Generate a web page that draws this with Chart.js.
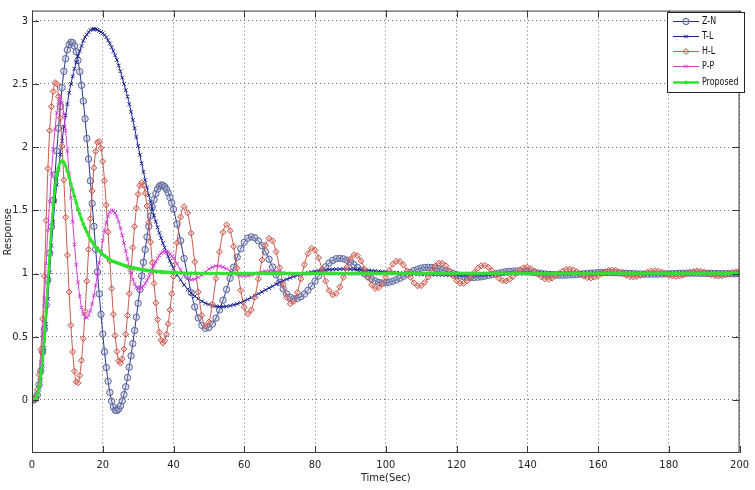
<!DOCTYPE html>
<html>
<head>
<meta charset="utf-8">
<script src="https://cdn.jsdelivr.net/npm/chart.js@4.4.1/dist/chart.umd.min.js"></script>
<style>
  html, body { margin: 0; padding: 0; background: #fff; }
  #wrap { width: 755px; height: 490px; }
</style>
</head>
<body>
<div id="wrap"><canvas id="c" width="755" height="490"></canvas></div>
<script>
// sample times (s): 0.5 s steps up to 40, then 1 s steps up to 200
const timeSec = [
  0,0.5,1,1.5,2,2.5,3,3.5,4,4.5,5,5.5,6,6.5,7,7.5,8,8.5,9,9.5,
  10,10.5,11,11.5,12,12.5,13,13.5,14,14.5,15,15.5,16,16.5,17,17.5,18,18.5,19,19.5,
  20,20.5,21,21.5,22,22.5,23,23.5,24,24.5,25,25.5,26,26.5,27,27.5,28,28.5,29,29.5,
  30,30.5,31,31.5,32,32.5,33,33.5,34,34.5,35,35.5,36,36.5,37,37.5,38,38.5,39,39.5,40,
  41,42,43,44,45,46,47,48,49,50,51,52,53,54,55,56,57,58,59,60,
  61,62,63,64,65,66,67,68,69,70,71,72,73,74,75,76,77,78,79,80,
  81,82,83,84,85,86,87,88,89,90,91,92,93,94,95,96,97,98,99,100,
  101,102,103,104,105,106,107,108,109,110,111,112,113,114,115,116,117,118,119,120,
  121,122,123,124,125,126,127,128,129,130,131,132,133,134,135,136,137,138,139,140,
  141,142,143,144,145,146,147,148,149,150,151,152,153,154,155,156,157,158,159,160,
  161,162,163,164,165,166,167,168,169,170,171,172,173,174,175,176,177,178,179,180,
  181,182,183,184,185,186,187,188,189,190,191,192,193,194,195,196,197,198,199,200
];

const zn = [
  0,0,0.01,0.04,0.12,0.23,0.38,0.56,0.75,0.95,
  1.16,1.37,1.58,1.78,1.97,2.15,2.32,2.47,2.6,2.7,
  2.77,2.81,2.83,2.826,2.8,2.754,2.686,2.597,2.489,2.364,
  2.224,2.069,1.906,1.733,1.554,1.373,1.191,1.012,0.839,0.676,
  0.521,0.381,0.256,0.148,0.059,-0.01,-0.056,-0.081,-0.084,-0.072,
  -0.047,-0.008,0.042,0.104,0.177,0.259,0.349,0.446,0.549,0.655,
  0.764,0.873,0.981,1.088,1.189,1.289,1.373,1.455,1.524,1.584,
  1.632,1.668,1.69,1.7,1.697,1.686,1.666,1.638,1.601,1.558,
  1.508,
  1.391,1.259,1.118,0.979,0.849,0.736,0.648,0.59,0.566,0.572,
  0.6,0.647,0.712,0.789,0.874,0.963,1.05,1.129,1.196,1.247,
  1.279,1.29,1.282,1.258,1.22,1.171,1.113,1.051,0.989,0.93,
  0.879,0.838,0.812,0.8,0.803,0.816,0.837,0.867,0.901,0.94,
  0.98,1.019,1.053,1.083,1.104,1.117,1.12,1.116,1.105,1.09,
  1.07,1.048,1.024,0.999,0.977,0.957,0.941,0.93,0.925,0.926,
  0.931,0.939,0.95,0.963,0.978,0.994,1.009,1.023,1.034,1.043,
  1.047,1.049,1.047,1.043,1.037,1.029,1.02,1.01,1.0,0.99,
  0.982,0.975,0.971,0.969,0.969,0.971,0.974,0.979,0.985,0.991,
  0.997,1.003,1.009,1.014,1.017,1.019,1.02,1.019,1.017,1.015,
  1.012,1.008,1.004,1.0,0.996,0.993,0.99,0.988,0.987,0.987,
  0.988,0.989,0.991,0.993,0.995,0.998,1.0,1.003,1.005,1.007,
  1.008,1.008,1.008,1.007,1.006,1.005,1.004,1.002,1.0,0.999,
  0.997,0.996,0.995,0.995,0.995,0.995,0.995,0.996,0.997,0.998,
  0.999,1.0,1.001,1.002,1.003,1.003,1.003,1.003,1.002,1.002,
  1.001,1.001,1.0,1.0,0.999,0.999,0.998,0.998,0.998,0.998
];

const tl = [
  0,0,0.01,0.03,0.08,0.16,0.27,0.41,0.6,0.8,
  1.01,1.22,1.41,1.57,1.7,1.82,1.94,2.05,2.16,2.25,
  2.34,2.43,2.5,2.56,2.62,2.67,2.72,2.76,2.8,2.84,
  2.87,2.89,2.91,2.925,2.932,2.935,2.934,2.928,2.92,2.91,
  2.9,2.885,2.87,2.845,2.82,2.79,2.76,2.725,2.69,2.645,
  2.6,2.55,2.5,2.45,2.4,2.34,2.28,2.215,2.15,2.08,
  2.01,1.94,1.87,1.805,1.74,1.68,1.62,1.565,1.51,1.46,
  1.41,1.365,1.32,1.28,1.24,1.205,1.17,1.135,1.1,1.07,
  1.04,
  0.99,0.95,0.91,0.875,0.845,0.82,0.8,0.78,0.765,0.755,
  0.745,0.74,0.738,0.738,0.74,0.745,0.752,0.76,0.77,0.782,
  0.795,0.81,0.825,0.84,0.855,0.87,0.885,0.9,0.915,0.93,
  0.943,0.955,0.966,0.976,0.985,0.993,1.0,1.006,1.012,1.017,
  1.021,1.025,1.028,1.031,1.033,1.034,1.035,1.035,1.035,1.034,
  1.033,1.031,1.029,1.027,1.025,1.022,1.02,1.017,1.015,1.012,
  1.01,1.008,1.006,1.004,1.002,1.0,0.998,0.997,0.995,0.994,
  0.993,0.992,0.991,0.99,0.99,0.989,0.989,0.988,0.988,0.988,
  0.988,0.988,0.988,0.989,0.989,0.99,0.99,0.991,0.992,0.993,
  0.994,0.995,0.996,0.997,0.998,0.999,0.999,1.0,1.001,1.002,
  1.002,1.003,1.003,1.004,1.004,1.004,1.004,1.004,1.004,1.004,
  1.003,1.003,1.003,1.003,1.002,1.002,1.001,1.001,1.0,1.0,
  1.0,1.0,0.999,0.999,0.999,0.999,0.999,0.999,0.999,0.999,
  1,1,1,1,1,1,1,1,1,1,
  1,1,1,1,1,1,1,1,1,1,
  1,1,1,1,1,1,1,1,1,1
];

const hl = [
  0,0,0.02,0.08,0.2,0.4,0.64,0.98,1.42,1.83,
  2.13,2.32,2.44,2.51,2.5,2.4,2.23,2.01,1.74,1.445,
  1.145,0.854,0.59,0.38,0.227,0.143,0.135,0.193,0.313,0.486,
  0.7,0.94,1.19,1.434,1.654,1.836,1.966,2.038,2.045,1.994,
  1.887,1.734,1.542,1.328,1.1,0.88,0.678,0.51,0.383,0.309,
  0.291,0.324,0.402,0.519,0.668,0.841,1.024,1.205,1.372,1.517,
  1.627,1.696,1.72,1.698,1.635,1.534,1.403,1.249,1.085,0.921,
  0.768,0.636,0.535,0.472,0.45,0.468,0.52,0.603,0.712,0.839,
  0.976,
  1.244,1.447,1.529,1.48,1.32,1.092,0.854,0.669,0.583,0.617,
  0.757,0.961,1.171,1.327,1.385,1.339,1.214,1.042,0.867,0.734,
  0.68,0.712,0.813,0.957,1.107,1.224,1.278,1.258,1.173,1.047,
  0.914,0.81,0.761,0.779,0.851,0.957,1.07,1.158,1.199,1.184,
  1.124,1.034,0.94,0.865,0.831,0.843,0.894,0.97,1.05,1.115,
  1.148,1.141,1.1,1.036,0.967,0.91,0.882,0.887,0.92,0.97,
  1.026,1.073,1.098,1.095,1.067,1.021,0.969,0.926,0.902,0.904,
  0.93,0.971,1.018,1.059,1.082,1.082,1.061,1.024,0.981,0.944,
  0.923,0.922,0.941,0.972,1.009,1.042,1.062,1.064,1.049,1.022,
  0.99,0.961,0.943,0.941,0.954,0.977,1.005,1.03,1.046,1.05,
  1.039,1.02,0.995,0.973,0.958,0.955,0.964,0.98,1.0,1.019,
  1.032,1.035,1.028,1.014,0.996,0.979,0.968,0.965,0.971,0.983,
  0.999,1.014,1.025,1.028,1.024,1.013,0.999,0.985,0.975,0.972,
  0.976,0.985,0.998,1.01,1.019,1.022,1.019,1.011,1.0,0.988,
  0.98,0.977,0.98,0.987,0.998,1.009,1.017,1.02,1.018,1.011,
  1.001,0.991,0.983,0.98,0.982,0.988,0.998,1.007,1.014,1.018
];

const pp = [
  0,0,0.02,0.06,0.15,0.3,0.52,0.8,1.08,1.34,
  1.57,1.79,1.98,2.14,2.27,2.36,2.4,2.35,2.26,2.13,
  1.97,1.79,1.6,1.41,1.23,1.07,0.93,0.82,0.73,0.68,
  0.655,0.652,0.669,0.705,0.759,0.826,0.906,0.993,1.084,1.175,
  1.261,1.338,1.403,1.453,1.486,1.5,1.496,1.479,1.449,1.409,
  1.36,1.303,1.241,1.177,1.114,1.054,1.0,0.953,0.918,0.893,
  0.881,0.881,0.888,0.902,0.921,0.945,0.972,1.003,1.034,1.065,
  1.094,1.12,1.142,1.159,1.17,1.175,1.173,1.167,1.156,1.14,
  1.122,
  1.077,1.03,0.988,0.96,0.95,0.955,0.969,0.989,1.012,1.035,
  1.05,1.059,1.059,1.051,1.038,1.022,1.005,0.991,0.982,0.98,
  0.983,0.988,0.996,1.004,1.012,1.017,1.02,1.019,1.016,1.012,
  1.006,1.0,0.996,0.993,0.993,0.994,0.996,0.999,1.002,1.005,
  1.006,1.007,1.007,1.005,1.003,1.001,0.999,0.998,0.998,0.998,
  0.999,0.999,1,1,1,1,1,1,1,1,
  1,1,1,1,1,1,1,1,1,1,
  1,1,1,1,1,1,1,1,1,1,
  1,1,1,1,1,1,1,1,1,1,
  1,1,1,1,1,1,1,1,1,1,
  1,1,1,1,1,1,1,1,1,1,
  1,1,1,1,1,1,1,1,1,1,
  1,1,1,1,1,1,1,1,1,1,
  1,1,1,1,1,1,1,1,1,1,
  1,1,1,1,1,1,1,1,1,1,
  1,1,1,1,1,1,1,1,1,1
];

const proposed = [
  0,0,0.01,0.04,0.1,0.2,0.33,0.5,0.7,0.92,
  1.14,1.36,1.54,1.68,1.78,1.84,1.88,1.89,1.88,1.85,
  1.81,1.76,1.71,1.66,1.61,1.56,1.51,1.47,1.43,1.39,
  1.36,1.33,1.3,1.27,1.25,1.23,1.21,1.19,1.18,1.165,
  1.15,1.14,1.13,1.12,1.11,1.1,1.095,1.09,1.085,1.08,
  1.075,1.07,1.065,1.06,1.056,1.052,1.048,1.045,1.042,1.039,
  1.036,1.033,1.031,1.029,1.027,1.025,1.023,1.021,1.02,1.018,
  1.017,1.015,1.014,1.013,1.012,1.011,1.01,1.009,1.008,1.007,
  1.006,
  1.005,1.004,1.003,1.003,1.002,1.002,1.001,1.001,1,1,
  1,1,1,1,1,1,1,1,1,1,
  1,1,1,1,1,1,1,1,1,1,
  1,1,1,1,1,1,1,1,1,1,
  1,1,1,1,1,1,1,1,1,1,
  1,1,1,1,1,1,1,1,1,1,
  1,1,1,1,1,1,1,1,1,1,
  1,1,1,1,1,1,1,1,1,1,
  1,1,1,1,1,1,1,1,1,1,
  1,1,1,1,1,1,1,1,1,1,
  1,1,1,1,1,1,1,1,1,1,
  1,1,1,1,1,1,1,1,1,1,
  1,1,1,1,1,1,1,1,1,1,
  1,1,1,1,1,1,1,1,1,1,
  1,1,1,1,1,1,1,1,1,1,
  1,1,1,1,1,1,1,1,1,1
];

const xTicks = [0, 20, 40, 60, 80, 100, 120, 140, 160, 180, 200];
const yTicks = [0, 0.5, 1, 1.5, 2, 2.5, 3];

const FONT = "'Liberation Sans Narrow', 'DejaVu Sans Condensed', 'Liberation Sans', Arial, sans-serif";

function series(label, values, style) {
  return Object.assign({
    label,
    data: timeSec.map((t, i) => ({ x: t, y: values[i] })),
    fill: false,
    borderWidth: 1,
    pointBorderWidth: 1,
    cubicInterpolationMode: 'monotone'
  }, style);
}

// MATLAB style box, inward ticks and the legend inside the axes
const matlabFrame = {
  id: 'matlabFrame',
  afterDraw(chart) {
    const { ctx, chartArea: a, scales: { x, y } } = chart;
    ctx.save();
    ctx.strokeStyle = '#3a3a3a';
    ctx.lineWidth = 1;
    ctx.strokeRect(a.left + 0.5, a.top + 0.5, a.right - a.left - 1, a.bottom - a.top - 1);
    ctx.beginPath();
    xTicks.forEach(v => {
      const px = Math.round(x.getPixelForValue(v)) + 0.5;
      ctx.moveTo(px, a.bottom); ctx.lineTo(px, a.bottom - 7);
      ctx.moveTo(px, a.top); ctx.lineTo(px, a.top + 7);
    });
    yTicks.forEach(v => {
      const py = Math.round(y.getPixelForValue(v)) + 0.5;
      ctx.moveTo(a.left, py); ctx.lineTo(a.left + 7, py);
      ctx.moveTo(a.right, py); ctx.lineTo(a.right - 7, py);
    });
    ctx.stroke();

    // legend box
    const lx = 667, ly = 12, lw = 77, lh = 80;
    ctx.fillStyle = '#fff';
    ctx.fillRect(lx, ly, lw, lh);
    ctx.strokeStyle = '#222';
    ctx.strokeRect(lx + 0.5, ly + 0.5, lw, lh);
    ctx.font = '10px ' + FONT;
    ctx.textBaseline = 'middle';
    chart.data.datasets.forEach((ds, i) => {
      const yy = Math.round(20.5 + i * 15.3) + 0.5;
      ctx.strokeStyle = ds.borderColor;
      ctx.lineWidth = ds.borderWidth;
      ctx.beginPath();
      ctx.moveTo(673, yy); ctx.lineTo(699, yy);
      ctx.stroke();
      ctx.strokeStyle = ds.pointBorderColor;
      ctx.fillStyle = ds.pointBackgroundColor;
      ctx.lineWidth = 1;
      Chart.helpers.drawPoint(ctx, { pointStyle: ds.pointStyle, radius: ds.pointRadius, rotation: 0, borderWidth: 1 }, 686, yy);
      ctx.fillStyle = '#111';
      ctx.save();
      ctx.translate(702, yy);
      ctx.scale(0.88, 1);
      ctx.fillText(ds.label, 0, 0);
      ctx.restore();
    });
    ctx.restore();
  }
};

new Chart(document.getElementById('c'), {
  type: 'line',
  data: {
    datasets: [
      series('Z-N', zn, {
        borderColor: '#26308a', pointStyle: 'circle', pointRadius: 3.2,
        pointBorderColor: '#5a6596', pointBackgroundColor: 'rgba(160,168,205,0.35)', order: 5
      }),
      series('T-L', tl, {
        borderColor: '#18228f', pointStyle: 'crossRot', pointRadius: 2.6,
        pointBorderColor: '#18228f', pointBackgroundColor: '#18228f', order: 4
      }),
      series('H-L', hl, {
        borderColor: '#c85a50', pointStyle: 'rectRot', pointRadius: 3,
        pointBorderColor: '#c65248', pointBackgroundColor: 'rgba(235,160,150,0.35)', order: 3
      }),
      series('P-P', pp, {
        borderColor: '#d43cd4', pointStyle: 'crossRot', pointRadius: 2.6,
        pointBorderColor: '#d43cd4', pointBackgroundColor: '#d43cd4', order: 2
      }),
      series('Proposed', proposed, {
        borderColor: '#2fe22f', borderWidth: 2.5, pointStyle: 'circle', pointRadius: 1.4,
        pointBorderColor: '#2fe22f', pointBackgroundColor: '#2fe22f', order: 1
      })
    ]
  },
  options: {
    responsive: false,
    animation: false,
    events: [],
    layout: { padding: { top: 5, right: 7, left: 0, bottom: 0 } },
    plugins: {
      legend: { display: false },
      tooltip: { enabled: false }
    },
    scales: {
      x: {
        type: 'linear',
        min: 0,
        max: 200,
        afterBuildTicks: s => { s.ticks = xTicks.map(v => ({ value: v })); },
        afterFit: s => { s.height = 37; },
        ticks: { color: '#222', font: { family: FONT, size: 11 }, padding: 6, maxRotation: 0, autoSkip: false },
        grid: { color: 'rgba(70,70,70,0.8)', lineWidth: 1, drawTicks: false },
        border: { display: false, dash: [1, 3] },
        title: { display: true, text: 'Time(Sec)', color: '#222', font: { family: FONT, size: 11 }, padding: { top: 0, bottom: 5 } }
      },
      y: {
        type: 'linear',
        min: -0.42,
        max: 3.08,
        afterBuildTicks: s => { s.ticks = yTicks.map(v => ({ value: v })); },
        afterFit: s => { s.width = 32; },
        ticks: { color: '#222', font: { family: FONT, size: 11 }, padding: 4, callback: v => String(v) },
        grid: { color: 'rgba(70,70,70,0.8)', lineWidth: 1, drawTicks: false },
        border: { display: false, dash: [1, 3] },
        title: { display: true, text: 'Response', color: '#222', font: { family: FONT, size: 11 }, padding: { top: 2, bottom: 0 } }
      }
    }
  },
  plugins: [matlabFrame]
});
</script>
</body>
</html>
